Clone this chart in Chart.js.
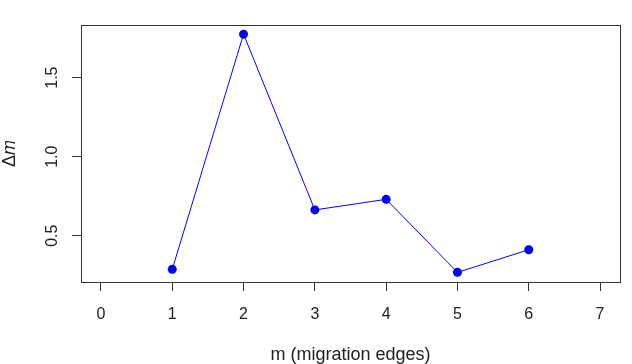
<!DOCTYPE html>
<html>
<head>
<meta charset="utf-8">
<style>
	html, body { margin: 0; padding: 0; background: #fff; }
</style>
</head>
<body>
<canvas id="plot" width="632" height="364"></canvas>

<script src="https://cdn.jsdelivr.net/npm/chart.js@4"></script>
<script type="text/javascript">
	// Значения с графика
	var mValues = [1, 2, 3, 4, 5, 6];
	var deltaM = [0.287, 1.775, 0.663, 0.730, 0.268, 0.411];
	var xTicks = [0, 1, 2, 3, 4, 5, 6, 7];
	var yTicks = [0.5, 1.0, 1.5];

	var font = "'Liberation Sans', Arial, sans-serif";
	var ink = "#222";

	// Рамка вокруг области графика, как box() в R
	var boxPlugin = {
		id: "box",
		afterDraw: function(chart){
			var a = chart.chartArea, ctx = chart.ctx;
			ctx.save();
			ctx.strokeStyle = "#333";
			ctx.lineWidth = 1;
			ctx.strokeRect(Math.round(a.left) + 0.5, Math.round(a.top) + 0.5, Math.round(a.right - a.left), Math.round(a.bottom - a.top));
			ctx.restore();
		}
	};

	var points = mValues.map(function(m, i){ return {x: m, y: deltaM[i]}; });

	new Chart(document.getElementById("plot"), {
		type: "scatter",
		data: {
			datasets: [{
				data: points,
				showLine: true,
				borderColor: "#0000ff",
				borderWidth: 1,
				backgroundColor: "#0000ff",
				pointBackgroundColor: "#0000ff",
				pointBorderWidth: 0,
				pointRadius: 4.5
			}]
		},
		options: {
			responsive: false,
			animation: false,
			events: [],
			layout: { padding: { left: 0, right: 12, top: 25, bottom: 0 } },
			plugins: {
				legend: { display: false },
				tooltip: { enabled: false }
			},
			scales: {
				x: {
					type: "linear",
					min: -0.28,
					max: 7.28,
					afterBuildTicks: function(s){ s.ticks = xTicks.map(function(v){ return {value: v}; }); },
					afterFit: function(s){ s.height = 82; },
					grid: { drawOnChartArea: false, drawTicks: true, tickLength: 9, tickColor: "#333", tickWidth: 1 },
					border: { display: false },
					ticks: { color: ink, font: { family: font, size: 16 }, padding: 14, maxRotation: 0 },
					title: { display: true, text: "m (migration edges)", color: ink, font: { family: font, size: 18 }, padding: { top: 0, bottom: -2 } }
				},
				y: {
					type: "linear",
					min: 0.207,
					max: 1.833,
					afterBuildTicks: function(s){ s.ticks = yTicks.map(function(v){ return {value: v}; }); },
					afterFit: function(s){ s.width = 81; },
					grid: { drawOnChartArea: false, drawTicks: true, tickLength: 9, tickColor: "#333", tickWidth: 1 },
					border: { display: false },
					ticks: {
						color: ink,
						font: { family: font, size: 16 },
						minRotation: 90,
						maxRotation: 90,
						crossAlign: "center",
						padding: 8,
						callback: function(v){ return v.toFixed(1); }
					},
					title: { display: true, text: "\u0394\ud835\udc5a", color: ink, font: { family: font, size: 18 }, padding: { top: -1, bottom: 0 } }
				}
			}
		},
		plugins: [boxPlugin]
	});
</script>
</body>
</html>
